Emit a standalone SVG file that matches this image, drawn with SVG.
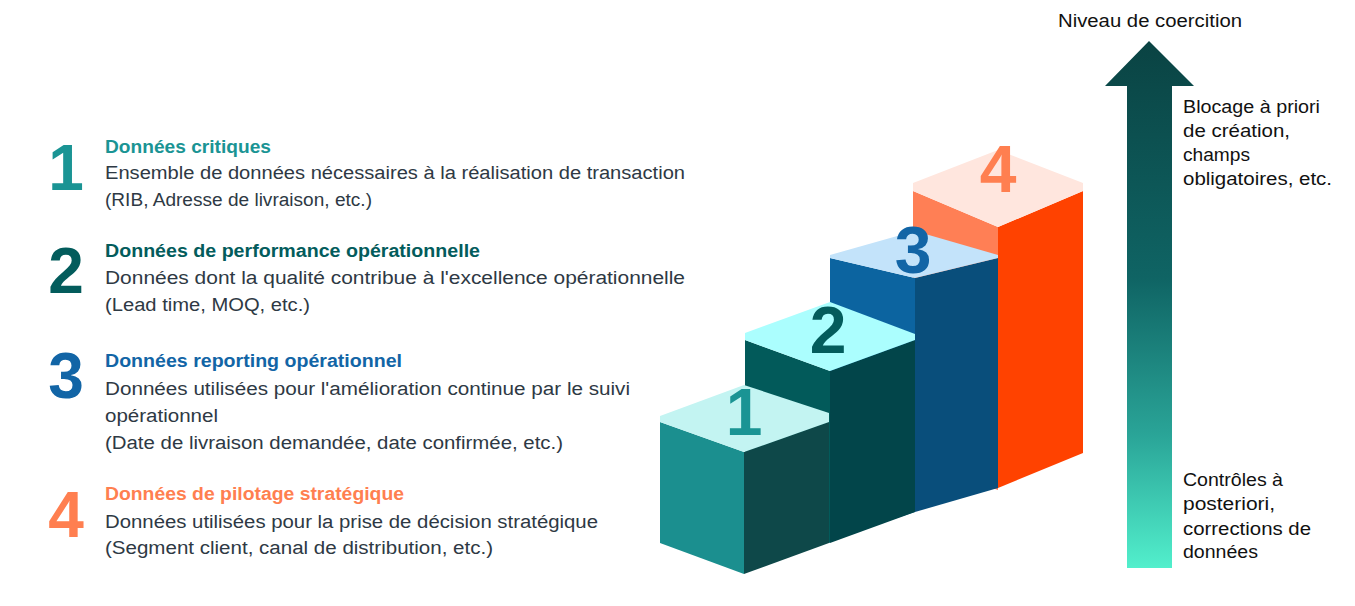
<svg xmlns="http://www.w3.org/2000/svg" width="1355" height="606" viewBox="0 0 1355 606">
<style>
text{font-family:"Liberation Sans","Noto Sans",Arial,sans-serif}
.h{font-weight:bold;font-size:18px}
.b{font-size:18px;fill:#2E3944}
.big{font-weight:bold;font-size:64px;text-anchor:middle}
.cn{font-weight:bold;font-size:66px;text-anchor:middle}
.r{font-size:17.5px;fill:#111111}
.c1{fill:#1A9494}.c2{fill:#035C5C}.c3{fill:#1265A6}.c4{fill:#FF7F50}
</style>
<defs>
<linearGradient id="ag" x1="0" y1="0" x2="0" y2="1" gradientUnits="objectBoundingBox">
<stop offset="0" stop-color="#0A4343"/>
<stop offset="0.45" stop-color="#0F6464"/>
<stop offset="0.75" stop-color="#2AA598"/>
<stop offset="1" stop-color="#52EFCC"/>
</linearGradient>
</defs>
<rect width="1355" height="606" fill="#ffffff"/>

<g id="legend-1">
<text class="big c1" x="66" y="190">1</text>
<text class="h c1" x="105" y="153" textLength="166" lengthAdjust="spacingAndGlyphs">Données critiques</text>
<text class="b" x="105" y="179" textLength="580" lengthAdjust="spacingAndGlyphs">Ensemble de données nécessaires à la réalisation de transaction</text>
<text class="b" x="105" y="206" textLength="267" lengthAdjust="spacingAndGlyphs">(RIB, Adresse de livraison, etc.)</text>
</g>
<g id="legend-2">
<text class="big c2" x="66" y="293">2</text>
<text class="h c2" x="105" y="257" textLength="375" lengthAdjust="spacingAndGlyphs">Données de performance opérationnelle</text>
<text class="b" x="105" y="284" textLength="580" lengthAdjust="spacingAndGlyphs">Données dont la qualité contribue à l'excellence opérationnelle</text>
<text class="b" x="105" y="311" textLength="205" lengthAdjust="spacingAndGlyphs">(Lead time, MOQ, etc.)</text>
</g>
<g id="legend-3">
<text class="big c3" x="66" y="398">3</text>
<text class="h c3" x="105" y="367" textLength="297" lengthAdjust="spacingAndGlyphs">Données reporting opérationnel</text>
<text class="b" x="105" y="395" textLength="525" lengthAdjust="spacingAndGlyphs">Données utilisées pour l'amélioration continue par le suivi</text>
<text class="b" x="105" y="422" textLength="113" lengthAdjust="spacingAndGlyphs">opérationnel</text>
<text class="b" x="105" y="449" textLength="458" lengthAdjust="spacingAndGlyphs">(Date de livraison demandée, date confirmée, etc.)</text>
</g>
<g id="legend-4">
<text class="big c4" x="66" y="537">4</text>
<text class="h c4" x="105" y="500" textLength="299" lengthAdjust="spacingAndGlyphs">Données de pilotage stratégique</text>
<text class="b" x="105" y="528" textLength="493" lengthAdjust="spacingAndGlyphs">Données utilisées pour la prise de décision stratégique</text>
<text class="b" x="105" y="554" textLength="388" lengthAdjust="spacingAndGlyphs">(Segment client, canal de distribution, etc.)</text>
</g>

<g id="step-4">
<polygon points="913,191 998,227 998,490 913,460" fill="#FF7F55"/>
<polygon points="998,227 1083,191 1083,453 998,488" fill="#FF4200"/>
<polygon points="913,183 998,150 1083,183 1083,191 998,227 913,191" fill="#FFE6DE"/>
<text class="cn c4" x="998" y="192">4</text>
</g>
<g id="step-3">
<polygon points="830,258 915,278 915,512 830,540" fill="#0C64A0"/>
<polygon points="915,278 998,258 998,488 915,512" fill="#094E7B"/>
<polygon points="830,255 915,231 998,255 998,258 915,278 830,258" fill="#C3E3FA"/>
<text class="cn c3" x="913" y="273">3</text>
</g>
<g id="step-2">
<polygon points="745,340 830,371 830,543 745,512" fill="#025A5A"/>
<polygon points="830,371 915,340 915,512 830,543" fill="#02454A"/>
<polygon points="745,333 830,302 915,334 915,340 830,371 745,340" fill="#ABFEFE"/>
<text class="cn c2" x="828" y="353">2</text>
</g>
<g id="step-1">
<polygon points="660,422 744,452 744,574 660,543" fill="#1B8F8F"/>
<polygon points="744,452 829,422 829,543 744,574" fill="#0E4849"/>
<polygon points="660,416 744,385 829,413 829,422 744,452 660,422" fill="#C3F4F2"/>
<text class="cn c1" x="744" y="435">1</text>
</g>

<g id="connectors">
<g id="coercion-arrow">
<polygon points="1149,41 1194,86 1172,86 1172,568 1127,568 1127,86 1105,86" fill="url(#ag)"/>
</g>
</g>

<g id="axis-labels">
<text class="r" x="1058" y="27" textLength="184" lengthAdjust="spacingAndGlyphs">Niveau de coercition</text>
<text class="r" x="1183" y="113" textLength="137" lengthAdjust="spacingAndGlyphs">Blocage à priori</text>
<text class="r" x="1183" y="137" textLength="107" lengthAdjust="spacingAndGlyphs">de création,</text>
<text class="r" x="1183" y="161" textLength="67" lengthAdjust="spacingAndGlyphs">champs</text>
<text class="r" x="1183" y="185" textLength="149" lengthAdjust="spacingAndGlyphs">obligatoires, etc.</text>
<text class="r" x="1183" y="486" textLength="100" lengthAdjust="spacingAndGlyphs">Contrôles à</text>
<text class="r" x="1183" y="510" textLength="92" lengthAdjust="spacingAndGlyphs">posteriori,</text>
<text class="r" x="1183" y="535" textLength="128" lengthAdjust="spacingAndGlyphs">corrections de</text>
<text class="r" x="1183" y="558" textLength="75" lengthAdjust="spacingAndGlyphs">données</text>
</g>
</svg>
